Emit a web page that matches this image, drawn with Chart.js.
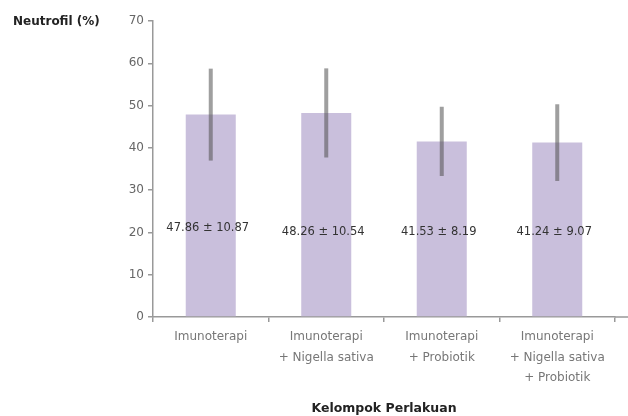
<!DOCTYPE html>
<html>
<head>
<meta charset="utf-8">
<script src="https://cdn.jsdelivr.net/npm/chart.js@4/dist/chart.umd.min.js"></script>
<style>
html,body{margin:0;padding:0;background:#fff;}
#wrap{width:628px;height:416px;position:relative;}
</style>
</head>
<body>
<div id="wrap"><canvas id="c" width="628" height="416"></canvas></div>
<script>
const categories = [
  ["Imunoterapi"],
  ["Imunoterapi", "+ Nigella sativa"],
  ["Imunoterapi", "+ Probiotik"],
  ["Imunoterapi", "+ Nigella sativa", "+ Probiotik"]
];
const means = [47.86, 48.26, 41.53, 41.24];
const sds = [10.87, 10.54, 8.19, 9.07];
const valueLabels = ["47.86 ± 10.87", "48.26 ± 10.54", "41.53 ± 8.19", "41.24 ± 9.07"];
const yTicks = [0, 10, 20, 30, 40, 50, 60, 70];

const FONT = "'DejaVu Sans', sans-serif";

const extras = {
  id: 'extras',
  afterDatasetsDraw(chart) {
    const ctx = chart.ctx;
    const y = chart.scales.y;
    const meta = chart.getDatasetMeta(0);
    ctx.save();
    // error bars
    ctx.strokeStyle = 'rgba(80,80,80,0.55)';
    ctx.lineWidth = 4;
    meta.data.forEach((bar, i) => {
      const top = y.getPixelForValue(means[i] + sds[i]);
      const bot = y.getPixelForValue(means[i] - sds[i]);
      ctx.beginPath();
      ctx.moveTo(bar.x, top);
      ctx.lineTo(bar.x, bot);
      ctx.stroke();
    });
    // value labels
    ctx.fillStyle = '#333';
    ctx.font = "11.5px " + FONT;
    ctx.textAlign = 'center';
    ctx.textBaseline = 'middle';
    meta.data.forEach((bar, i) => {
      ctx.fillText(valueLabels[i], bar.x - 3, y.getPixelForValue(i === 0 ? 21 : 20.2));
    });
    // axis extension to right edge
    ctx.strokeStyle = '#999';
    ctx.lineWidth = 1.5;
    ctx.beginPath();
    ctx.moveTo(chart.chartArea.right, y.getPixelForValue(0));
    ctx.lineTo(628, y.getPixelForValue(0));
    ctx.stroke();
    // y title
    ctx.fillStyle = '#222';
    ctx.font = "bold 12px " + FONT;
    ctx.textAlign = 'left';
    ctx.fillText("Neutrofil (%)", 13, y.getPixelForValue(70) + 1);
    ctx.restore();
  }
};

new Chart(document.getElementById('c'), {
  type: 'bar',
  data: {
    labels: categories,
    datasets: [{
      data: means,
      backgroundColor: 'rgb(201,191,220)',
      borderWidth: 0,
      barPercentage: 0.433,
      categoryPercentage: 1
    }]
  },
  options: {
    responsive: false,
    animation: false,
    devicePixelRatio: 1,
    layout: { padding: { top: 21, right: 13, left: 0, bottom: 0 } },
    plugins: { legend: { display: false }, tooltip: { enabled: false } },
    scales: {
      x: {
        afterFit(axis) { axis.height = 99; },
        grid: { display: true, drawOnChartArea: false, offset: true, tickLength: 5, color: '#999', lineWidth: 1.5 },
        border: { display: true, color: '#999', width: 1.5 },
        ticks: { color: '#777', font: { family: FONT, size: 12, lineHeight: 1.7 }, padding: 5, maxRotation: 0, autoSkip: false },
        title: { display: true, text: 'Kelompok Perlakuan', color: '#222', font: { family: FONT, size: 12.5, weight: 'bold' }, padding: { top: 10, bottom: 0 } }
      },
      y: {
        min: 0, max: 70,
        afterFit(axis) { axis.width = 153; },
        afterBuildTicks(axis) { axis.ticks = yTicks.map(v => ({ value: v })); },
        grid: { display: true, drawOnChartArea: false, tickLength: 5, color: '#999', lineWidth: 1.5 },
        border: { display: true, color: '#999', width: 1.5 },
        ticks: { color: '#666', font: { family: FONT, size: 12 }, padding: 4 }
      }
    }
  },
  plugins: [extras]
});
</script>
</body>
</html>
